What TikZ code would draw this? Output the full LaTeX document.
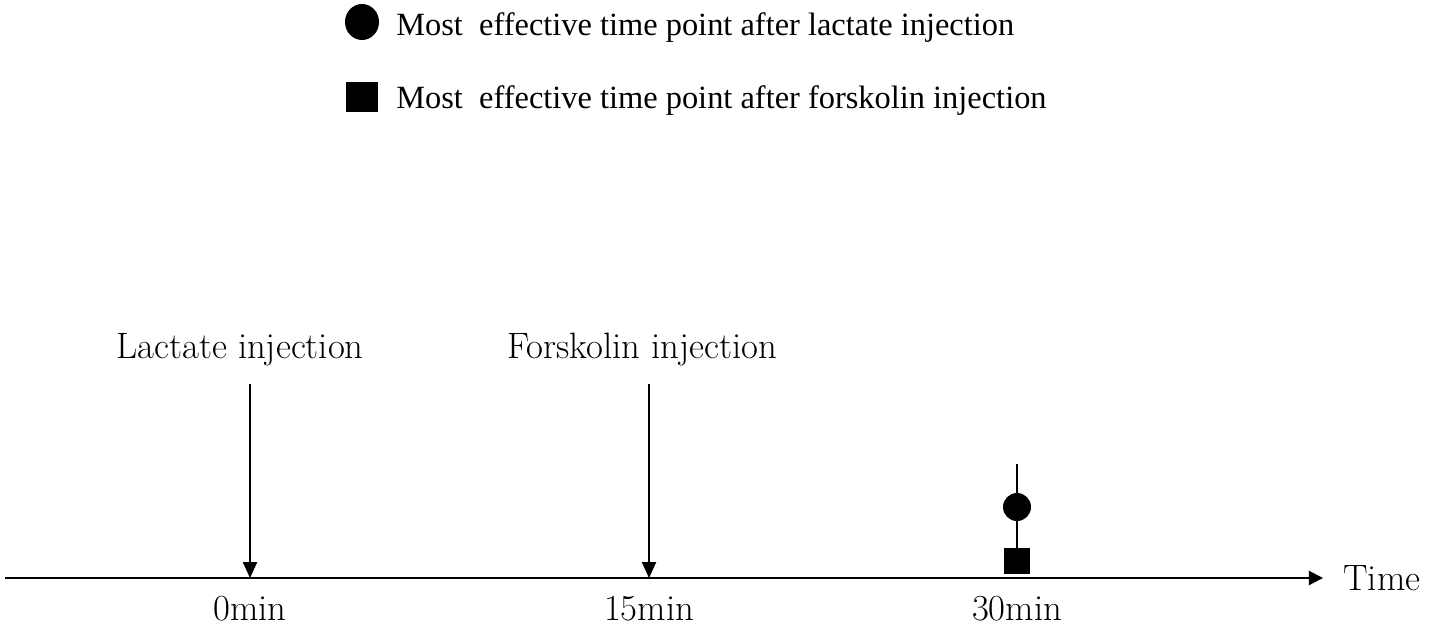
\documentclass[tikz,border=0pt]{standalone}
\usepackage{fontspec}
\newfontfamily\legendfont{Liberation Serif}
\usetikzlibrary{arrows.meta}

\tikzset{
  axisline/.style={line width=1.1pt, -{Triangle[length=8pt,width=8pt]}},
  injarrow/.style={line width=0.9pt, -{Triangle[length=9pt,width=8pt]}},
  lbl/.style={font=\fontsize{20.9}{24}\selectfont, inner sep=0pt},
  leg/.style={font=\legendfont\fontsize{18.45}{22}\selectfont, inner sep=0pt, anchor=base west},
}

\begin{document}
\begin{tikzpicture}[x=0.02cm, y=-0.02cm]
  \useasboundingbox (0,0) rectangle (1429,630);

  % legend
  \fill (362,22) ellipse (17 and 18);
  \fill (346,82) rectangle (378,112);
  \node[leg] (legcirc) at (396,35) {Most\ \ effective time point after lactate injection};
  \node[leg] (legsq) at (396,108) {Most\ \ effective time point after forskolin injection};

  % time axis
  \coordinate (axstart) at (5,578);
  \coordinate (axend) at (1323,578);
  \draw[axisline] (axstart) -- (axend);
  \node[lbl, anchor=west] (time) at (1343,578) {Time};

  % injections
  \node[lbl, anchor=base] (lact) at (240,358) {Lactate injection};
  \node[lbl, anchor=base] (forsk) at (642,358) {Forskolin injection};
  \coordinate (lacttop) at (250,384);
  \coordinate (lactbot) at (250,578);
  \coordinate (forsktop) at (649,384);
  \coordinate (forskbot) at (649,578);
  \draw[injarrow] (lacttop) -- (lactbot);
  \draw[injarrow] (forsktop) -- (forskbot);

  % most effective points
  \coordinate (efftop) at (1017,464);
  \coordinate (effbot) at (1017,550);
  \draw[line width=0.9pt] (efftop) -- (effbot);
  \fill (1017,507) circle (14);
  \fill (1004,548) rectangle (1030,574);

  % ticks
  \node[lbl, anchor=base] (t0) at (250,620) {0min};
  \node[lbl, anchor=base] (t15) at (649,620) {15min};
  \node[lbl, anchor=base] (t30) at (1017,620) {30min};

\end{tikzpicture}
\end{document}
